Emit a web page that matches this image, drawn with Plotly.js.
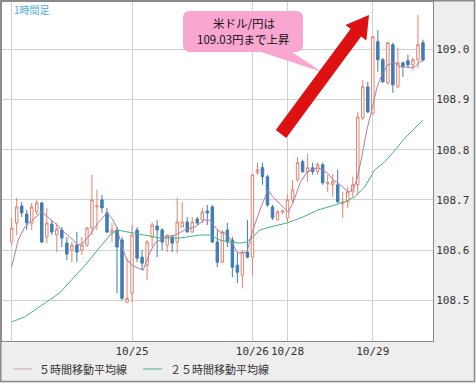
<!DOCTYPE html>
<html><head><meta charset="utf-8">
<script src="https://cdn.plot.ly/plotly-3.0.1.min.js"></script>
<style>html,body{margin:0;padding:0;background:#efeeee;}#chart{width:476px;height:383px;}</style>
</head><body><div id="chart"></div>
<script>
// Hourly USD/JPY candles
const open  = [108.616,108.654,108.688,108.672,108.654,108.676,108.694,108.626,108.652,108.630,108.640,108.614,108.600,108.610,108.600,108.610,108.644,108.686,108.700,108.674,108.634,108.640,108.620,108.496,108.514,108.640,108.586,108.570,108.626,108.648,108.640,108.610,108.626,108.616,108.646,108.656,108.636,108.662,108.660,108.678,108.686,108.616,108.576,108.640,108.620,108.570,108.550,108.596,108.586,108.754,108.764,108.746,108.686,108.660,108.676,108.664,108.700,108.740,108.776,108.756,108.764,108.756,108.770,108.732,108.730,108.730,108.692,108.696,108.716,108.730,108.863,108.925,108.873,109.015,108.979,108.933,109.009,108.925,108.973,108.977,108.969,108.979,109.013];
const high  = [108.664,108.704,108.696,108.680,108.694,108.700,108.696,108.684,108.660,108.654,108.646,108.626,108.616,108.636,108.626,108.646,108.750,108.720,108.710,108.684,108.654,108.646,108.626,108.584,108.650,108.646,108.600,108.620,108.656,108.660,108.644,108.630,108.630,108.704,108.696,108.666,108.666,108.666,108.684,108.690,108.690,108.640,108.640,108.654,108.626,108.596,108.600,108.660,108.750,108.774,108.774,108.750,108.690,108.680,108.680,108.710,108.740,108.785,108.780,108.792,108.774,108.774,108.774,108.750,108.752,108.760,108.716,108.726,108.746,108.875,108.939,108.935,109.025,109.038,108.983,109.013,109.013,109.003,108.975,108.989,108.983,109.068,109.019];
const low   = [108.610,108.630,108.666,108.640,108.640,108.670,108.614,108.614,108.630,108.596,108.606,108.580,108.576,108.576,108.590,108.606,108.630,108.640,108.674,108.634,108.616,108.514,108.500,108.496,108.496,108.576,108.560,108.540,108.606,108.586,108.600,108.596,108.596,108.594,108.646,108.636,108.634,108.650,108.654,108.650,108.614,108.566,108.574,108.606,108.546,108.534,108.524,108.584,108.550,108.750,108.730,108.686,108.660,108.660,108.672,108.654,108.694,108.736,108.754,108.736,108.750,108.750,108.730,108.716,108.706,108.694,108.664,108.684,108.706,108.710,108.859,108.873,108.869,108.955,108.933,108.929,108.913,108.923,108.945,108.963,108.959,108.963,108.975];
const close = [108.644,108.686,108.674,108.654,108.686,108.694,108.616,108.654,108.636,108.642,108.624,108.592,108.610,108.596,108.610,108.644,108.700,108.688,108.684,108.636,108.640,108.606,108.504,108.504,108.630,108.584,108.574,108.616,108.650,108.640,108.616,108.630,108.614,108.656,108.656,108.636,108.656,108.654,108.676,108.674,108.616,108.576,108.636,108.616,108.566,108.556,108.596,108.586,108.750,108.760,108.746,108.690,108.664,108.676,108.678,108.700,108.720,108.774,108.756,108.764,108.756,108.770,108.734,108.734,108.736,108.696,108.696,108.716,108.730,108.865,108.925,108.875,109.025,108.979,108.935,109.013,108.929,108.973,108.965,108.969,108.979,109.009,108.979];

// 5-hour moving average (position in bars, value)
const ma5x = [0,1.3,2.6,4.2,6,7.2,8.6,10,11.6,13.2,14.2,15.6,17.2,19,20.2,21,22,23,24,25.2,26.2,27.6,28.6,30.6,32.6,34.5,36.5,38.5,39.5,40.5,41.5,42.5,43.5,44.9,45.5,46.9,48.1,49.5,51.1,52.1,54.1,55.1,56.1,57.5,58.9,61.1,62.9,64.1,65.5,67.1,68,68.8,69.8,70.8,71.8,72.8,73.8,75,76.4,77.4,78.4,79.4,80.4,81.4,82.4];
const ma5y = [108.566,108.620,108.646,108.660,108.676,108.666,108.654,108.640,108.626,108.610,108.614,108.630,108.654,108.674,108.660,108.644,108.606,108.580,108.570,108.564,108.560,108.596,108.614,108.626,108.630,108.640,108.646,108.660,108.660,108.646,108.636,108.634,108.624,108.596,108.594,108.596,108.640,108.680,108.720,108.706,108.686,108.676,108.694,108.734,108.756,108.764,108.754,108.740,108.730,108.716,108.720,108.740,108.785,108.839,108.879,108.923,108.949,108.969,108.973,108.965,108.965,108.963,108.965,108.975,108.979];
// 25-hour moving average
const ma25x = [0,2.6,9.6,11,15,17.6,19.6,21,23,26.6,29.6,33.6,37.5,39.5,41.5,43.5,45.5,46.9,48.5,49.5,51.5,54.9,58.1,61.1,62.5,66.4,68.4,70.4,72.4,74.4,76.4,78.4,80,82];
const ma25y = [108.457,108.467,108.515,108.530,108.574,108.606,108.630,108.640,108.636,108.630,108.624,108.624,108.630,108.630,108.620,108.616,108.614,108.616,108.630,108.640,108.646,108.654,108.666,108.680,108.684,108.696,108.706,108.726,108.760,108.776,108.799,108.823,108.839,108.859];

// Axis ticks
const xTickVals = [0,24,48,55,72];
const xTickText = ['','10/25','10/26','10/28','10/29'];
const yTickVals = [108.5,108.6,108.7,108.8,108.9,109.0];
const yTickText = ['108.5','108.6','108.7','108.8','108.9','109.0'];

const idx = open.map((_, i) => i);

const cjk = '"Noto Sans CJK JP", "Noto Sans", sans-serif';
const mono = '"DejaVu Sans Mono", monospace';
const maColor5 = '#b27aa6', maColor25 = '#45b386';

const traces = [
  {type:'candlestick', x: idx, open, high, low, close, showlegend:false, hoverinfo:'skip',
   increasing:{line:{color:'#e4826c', width:1}, fillcolor:'#ffffff'},
   decreasing:{line:{color:'#3f7cb8', width:1}, fillcolor:'#3f7cb8'}},
  {type:'scatter', mode:'lines', x: ma5x, y: ma5y, name:'５時間移動平均線', showlegend:false,
   line:{color:maColor5, width:1}, hoverinfo:'skip'},
  {type:'scatter', mode:'lines', x: ma25x, y: ma25y, name:'２５時間移動平均線', showlegend:false,
   line:{color:maColor25, width:1}, hoverinfo:'skip'}
];

// helpers: pixel -> paper
const PL=2, PR=433, PT=2, PB=341;
const px = x => (x-PL)/(PR-PL);
const py = y => (PB-y)/(PB-PT);

// callout
const bx0=px(183), bx1=px(303), byT=py(11), byB=py(52), rx=7/(PR-PL), ry=7/(PB-PT);
const callout = `M ${bx0+rx} ${byT} L ${bx1-rx} ${byT} Q ${bx1} ${byT} ${bx1} ${byT-ry} L ${bx1} ${byB+ry} Q ${bx1} ${byB} ${bx1-rx} ${byB} L ${px(292)} ${byB} L ${px(322)} ${py(72)} L ${px(261)} ${byB} L ${bx0+rx} ${byB} Q ${bx0} ${byB} ${bx0} ${byB+ry} L ${bx0} ${byT-ry} Q ${bx0} ${byT} ${bx0+rx} ${byT} Z`;
// arrow
const arrPts = [[275.8,130.1],[286.2,137.9],[361.1,36.6],[366.4,40.4],[369,15],[345.4,25.0],[350.7,28.8]];
const arrow = 'M ' + arrPts.map(p => `${px(p[0])} ${py(p[1])}`).join(' L ') + ' Z';

const layout = {
  width:476, height:383,
  margin:{l:PL, r:476-PR, t:PT, b:383-PB, pad:0},
  paper_bgcolor:'#efeeee', plot_bgcolor:'#ffffff',
  showlegend:false, hovermode:false, dragmode:false,
  xaxis:{type:'linear', range:[-1.93, 84.0], rangeslider:{visible:false},
    tickmode:'array', tickvals:xTickVals, ticktext:xTickText, ticks:'', tickangle:0,
    showgrid:true, gridcolor:'#d2d2d2', gridwidth:1, zeroline:false,
    showline:true, mirror:true, linecolor:'#8a8a8a', linewidth:1,
    tickfont:{family:mono, size:11, color:'#333'}, fixedrange:true},
  yaxis:{side:'right', range:[108.419, 109.094], tickmode:'array', tickvals:yTickVals, ticktext:yTickText, ticks:'',
    showgrid:true, gridcolor:'#d2d2d2', gridwidth:1, zeroline:false,
    showline:true, mirror:true, linecolor:'#8a8a8a', linewidth:1,
    tickfont:{family:mono, size:11, color:'#333'}, fixedrange:true},
  shapes:[
    {type:'path', xref:'paper', yref:'paper', path:callout, fillcolor:'#f9a6d0', line:{width:0}},
    {type:'path', xref:'paper', yref:'paper', path:arrow, fillcolor:'#dd1111', line:{width:0}},
    {type:'line', xref:'paper', yref:'paper', x0:px(13), x1:px(32), y0:py(369), y1:py(369), line:{color:'#c9a3c4', width:1}},
    {type:'line', xref:'paper', yref:'paper', x0:px(143), x1:px(162), y0:py(369), y1:py(369), line:{color:maColor25, width:1}},
    {type:'rect', xref:'paper', yref:'paper', x0:px(0.8), x1:px(474.5), y0:py(0.8), y1:py(381.5), line:{color:'#8a8a8a', width:1.5}, layer:'above'}
  ],
  annotations:[
    {xref:'paper', yref:'paper', x:px(12), y:py(9.5), xanchor:'left', yanchor:'middle', showarrow:false,
     text:'1時間足', font:{family:cjk, size:10, color:'#4aaee0'}},
    {xref:'paper', yref:'paper', x:px(243.5), y:py(23.5), xanchor:'center', yanchor:'middle', showarrow:false,
     text:'米ドル/円は', font:{family:cjk, size:11.5, color:'#111'}},
    {xref:'paper', yref:'paper', x:px(243.5), y:py(39), xanchor:'center', yanchor:'middle', showarrow:false,
     text:'109.03円まで上昇', font:{family:cjk, size:11.5, color:'#111'}},
    {xref:'paper', yref:'paper', x:px(37), y:py(369), xanchor:'left', yanchor:'middle', showarrow:false,
     text:'５時間移動平均線', font:{family:cjk, size:11, color:'#333'}},
    {xref:'paper', yref:'paper', x:px(168), y:py(369), xanchor:'left', yanchor:'middle', showarrow:false,
     text:'２５時間移動平均線', font:{family:cjk, size:11, color:'#333'}}
  ]
};

Plotly.newPlot('chart', traces, layout, {displayModeBar:false, staticPlot:true});
</script></body></html>
